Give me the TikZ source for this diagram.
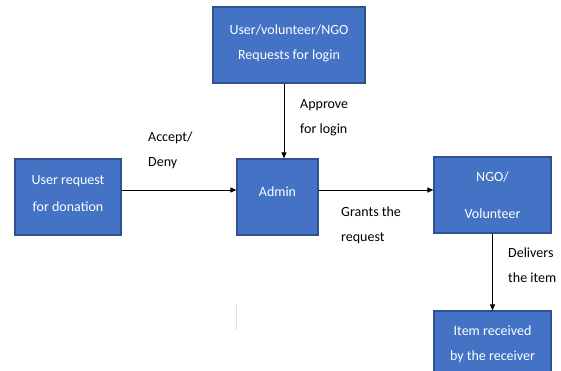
\documentclass[tikz,border=0pt]{standalone}
\usepackage{fontspec}
\setmainfont{Carlito}
\usetikzlibrary{arrows.meta}
\definecolor{boxfill}{HTML}{4472C4}
\definecolor{boxline}{HTML}{2F528F}
\begin{document}
\begin{tikzpicture}[x=1pt,y=-1pt,
  box/.style={draw=boxline,line width=1.2pt,fill=boxfill,text=white,align=center,
    font=\fontsize{14}{25}\selectfont,inner sep=0pt},
  lbl/.style={anchor=west,align=left,font=\fontsize{14}{25}\selectfont,inner sep=0pt},
  arr/.style={-{Triangle[length=6pt,width=5pt]},line width=1pt}]
\useasboundingbox (0,0) rectangle (561,370);
\clip (0,0) rectangle (561,370);
\node[box,minimum width=152pt,minimum height=76pt] (top) at (289,45) {\raisebox{6pt}{\shortstack{User/volunteer/NGO\\[12pt]Requests for login}}};
\node[box,minimum width=81pt,minimum height=76pt] (admin) at (277.5,197) {\raisebox{10pt}{Admin}};
\node[box,minimum width=106pt,minimum height=76pt] (user) at (68,197) {\raisebox{7pt}{\shortstack{User request\\[12pt]for donation}}};
\node[box,minimum width=117pt,minimum height=76pt] (ngo) at (492.5,195) {\shortstack{NGO/\\[24pt]Volunteer}};
\node[box,minimum width=117pt,minimum height=68pt] (item) at (492.5,345) {\raisebox{3pt}{\shortstack{Item received\\[12pt]by the receiver}}};
\draw[arr] ([yshift=7pt]user.east) -- ([yshift=7pt]user.east -| admin.west);
\draw[arr] ([yshift=7pt]admin.east) -- ([yshift=7pt]admin.east -| ngo.west);
\draw[arr] ([xshift=-5pt]top.south) -- ([xshift=-5pt]top.south |- admin.north);
\draw[arr] (ngo.south) -- (item.north);
\node[lbl] (l1) at (148,150) {Accept/\\Deny};
\node[lbl] (l2) at (300,117.5) {Approve\\for login};
\node[lbl] (l3) at (341,225.5) {Grants the\\request};
\node[lbl] (l4) at (508,265.5) {Delivers\\the item};
\coordinate (m1) at (236,305);
\coordinate (m2) at (236,330);
\draw[gray!25,line width=0.8pt] (m1) -- (m2);
\end{tikzpicture}
\end{document}
